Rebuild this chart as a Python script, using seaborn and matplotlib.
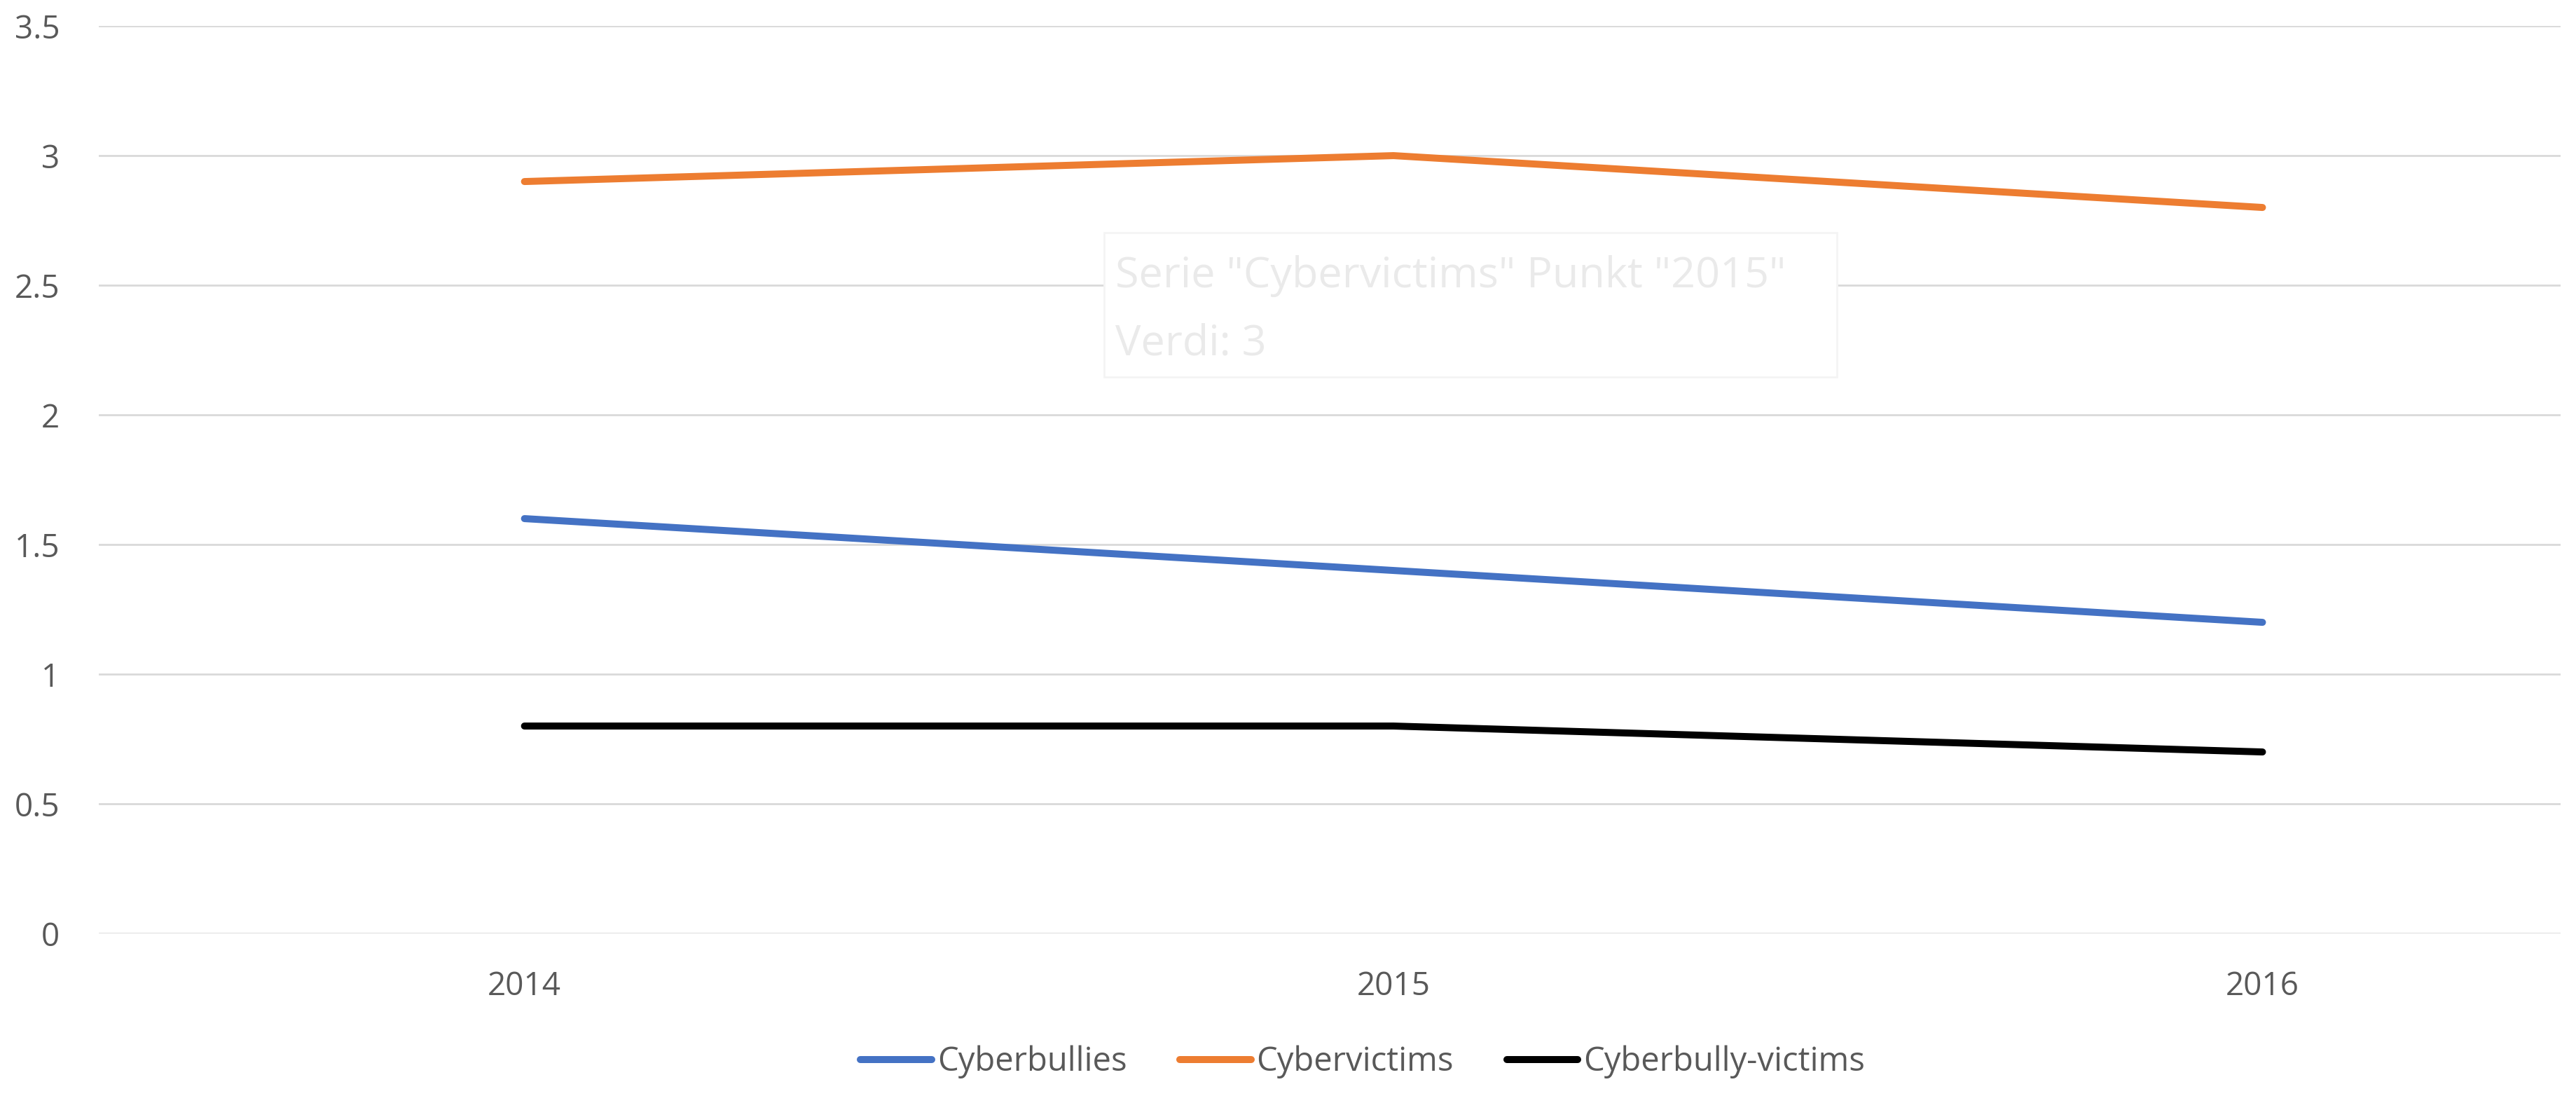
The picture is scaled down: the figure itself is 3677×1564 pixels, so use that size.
import pandas as pd
import matplotlib
matplotlib.use("Agg")
import matplotlib.pyplot as plt
import seaborn as sns
from matplotlib.patches import Rectangle

years = ["2014", "2015", "2016"]
series_names = ["Cyberbullies", "Cybervictims", "Cyberbully-victims"]
cyberbullies = [1.6, 1.4, 1.2]
cybervictims = [2.9, 3.0, 2.8]
bully_victims = [0.8, 0.8, 0.7]
colors = ["#4472C4", "#ED7D31", "#000000"]
yticks = [0, 0.5, 1, 1.5, 2, 2.5, 3, 3.5]
ytick_labels = ["0", "0.5", "1", "1.5", "2", "2.5", "3", "3.5"]

df = pd.DataFrame({
    "Year": years * 3,
    "Value": cyberbullies + cybervictims + bully_victims,
    "Series": [s for s in series_names for _ in years],
})

sns.set_style("white")
plt.rcParams["font.family"] = ["Open Sans", "DejaVu Sans"]

fig = plt.figure(figsize=(36.77, 15.64), dpi=100)
ax = fig.add_axes([0.0383, 0.1483, 0.9557, 0.828])

sns.lineplot(data=df, x="Year", y="Value", hue="Series", hue_order=series_names,
             palette=colors, linewidth=7.2, sort=False, ax=ax, legend=False)

ax.set_ylim(0, 3.5)
ax.set_xlim(-0.49, 2.343)
ax.set_yticks(yticks)
ax.set_yticklabels(ytick_labels)
ax.grid(axis="y", color="#D9D9D9", linewidth=2)
ax.grid(axis="x", visible=False)
for s in ax.spines.values():
    s.set_visible(False)
ax.tick_params(axis="y", length=0, pad=40, labelsize=33, labelcolor="#595959")
ax.tick_params(axis="x", length=0, pad=38, labelsize=33, labelcolor="#595959")
ax.set_xlabel("")
ax.set_ylabel("")

# faint leftover tooltip from the screenshot
box = Rectangle((0.4286, 0.656), 0.2845, 0.132, transform=fig.transFigure,
                facecolor="white", edgecolor="#F4F4F4", linewidth=2, zorder=5)
fig.patches.append(box)
fig.text(0.433, 0.738, 'Serie "Cybervictims" Punkt "2015"', fontsize=44,
         color="#EAEAEA", va="baseline", ha="left", zorder=6)
fig.text(0.433, 0.676, "Verdi: 3", fontsize=44, color="#EAEAEA",
         va="baseline", ha="left", zorder=6)

handles = [plt.Line2D([], [], color=c, linewidth=7.2) for c in colors]
fig.legend(handles, series_names, loc="center", bbox_to_anchor=(0.529, 0.031),
           ncol=3, frameon=False, fontsize=34, labelcolor="#595959",
           handlelength=2.15, handletextpad=0.17, columnspacing=1.6)

fig.savefig("out.png", dpi=100)
